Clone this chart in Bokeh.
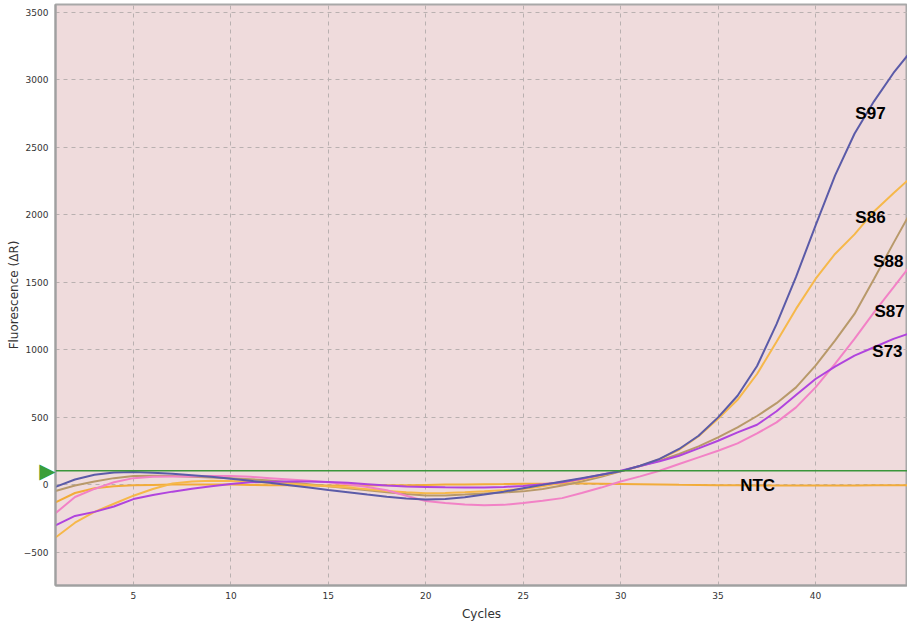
from bokeh.plotting import figure
from bokeh.models import (FixedTicker, Span, ColumnDataSource, LinearAxis,
                          CustomJSTickFormatter)
from bokeh.core.properties import value
from bokeh.embed import file_html
from bokeh.resources import INLINE

cycles = list(range(1, 46))

s97 = [-15, 40, 75, 92, 95, 90, 82, 72, 60, 45, 30, 15, -2, -20, -38, -55, -72, -88, -100, -108,
       -105, -92, -72, -50, -25, 0, 25, 50, 75, 100, 142, 192, 266, 364, 500, 660, 880, 1190, 1540, 1920,
       2290, 2600, 2840, 3050, 3230]
s86 = [-390, -280, -200, -140, -80, -30, 10, 25, 30, 28, 22, 15, 8, 0, -10, -20, -32, -45, -55, -62,
       -60, -55, -48, -40, -30, -10, 15, 40, 70, 100, 140, 190, 260, 360, 490, 630, 821, 1060, 1303, 1525,
       1710, 1855, 2025, 2160, 2290]
s88 = [-45, -5, 25, 50, 65, 68, 65, 60, 55, 50, 42, 32, 20, 5, -10, -25, -40, -55, -68, -78,
       -78, -72, -64, -56, -48, -30, -5, 25, 60, 100, 140, 180, 229, 285, 352, 426, 510, 605, 722, 883,
       1068, 1266, 1525, 1790, 2050]
s87 = [-210, -90, -30, 20, 50, 60, 62, 63, 65, 66, 60, 50, 40, 30, 20, 5, -15, -40, -80, -120,
       -135, -145, -150, -148, -135, -118, -98, -60, -20, 25, 63, 105, 155, 204, 253, 307, 381, 463, 574, 722,
       896, 1081, 1278, 1463, 1650]
s73 = [-300, -230, -200, -160, -105, -75, -50, -28, -10, 7, 19, 24, 25, 25, 22, 15, 5, -5, -12, -15,
       -18, -20, -20, -15, -8, 5, 20, 45, 75, 105, 140, 175, 216, 270, 327, 389, 445, 545, 665, 784,
       876, 957, 1019, 1081, 1130]
ntc = [-130, -60, -25, -10, -3, 0, 2, 3, 3, 2, 0, -2, -3, -5, -5, -5, -4, -3, -2, 0,
       2, 3, 5, 6, 8, 9, 10, 10, 9, 7, 5, 3, 1, 0, -2, -3, -4, -5, -5, -5,
       -5, -4, -3, -2, -2]

threshold = 105

labels = ["S97", "S86", "S88", "S87", "S73", "NTC"]
label_x = [42.82, 42.82, 43.74, 43.8, 43.69, 37.03]
label_y = [2750, 1980, 1653, 1283, 987, -6]

x_ticks = [5, 10, 15, 20, 25, 30, 35, 40]
y_ticks = [-500, 0, 500, 1000, 1500, 2000, 2500, 3000, 3500]

series = [
    (ntc, "#F2AC3A"),
    (s88, "#B8996A"),
    (s86, "#F6B84A"),
    (s87, "#F282C6"),
    (s73, "#B044DE"),
    (s97, "#5B5BA8"),
]

x_start, x_end = 1.0, 44.72
p = figure(width=907, height=626, output_backend="svg", toolbar_location=None,
           x_range=(x_start, x_end), y_range=(-745, 3557),
           min_border_left=55, min_border_right=0, min_border_top=4, min_border_bottom=41)

p.background_fill_color = "#EFDBDC"
p.border_fill_color = "white"
p.outline_line_color = "#A8A8A8"
p.outline_line_width = 2

for ys, col in series:
    p.line(cycles, ys, line_color=col, line_width=2)

p.add_layout(Span(location=threshold, dimension="width", line_color="#3A963A", line_width=1.5))

src = ColumnDataSource(dict(x=label_x, y=label_y, t=labels))
p.text(x="x", y="y", text="t", source=src, text_align="center", text_baseline="middle",
       text_font=value("Liberation Sans"), text_font_style="bold", text_font_size="17px",
       text_color="black")

# main y axis (outer) and threshold-marker axis (inner, next to the plot area)
main_y = p.yaxis[0]
tri_axis = LinearAxis(ticker=FixedTicker(ticks=[threshold]),
                      formatter=CustomJSTickFormatter(code="return '\u25B6'"))
tri_axis.major_label_text_color = "#3A9E3A"
tri_axis.major_label_text_font = "DejaVu Sans"
tri_axis.major_label_text_font_size = "21px"
tri_axis.major_label_standoff = 0
tri_axis.major_tick_out = 0
tri_axis.major_tick_in = 0
tri_axis.major_tick_line_color = None
tri_axis.minor_tick_line_color = None
tri_axis.axis_line_color = "#A0A0A0"
tri_axis.axis_line_width = 2
p.left = [tri_axis] + list(p.left)

p.xaxis.ticker = FixedTicker(ticks=x_ticks)
main_y.ticker = FixedTicker(ticks=y_ticks)
p.xgrid.ticker = FixedTicker(ticks=x_ticks)
p.ygrid.ticker = FixedTicker(ticks=y_ticks)
p.grid.grid_line_color = "#B9B0B0"
p.grid.grid_line_dash = "4 4"
p.grid.grid_line_width = 1

for ax in (p.xaxis[0], main_y):
    ax.major_tick_line_color = None
    ax.minor_tick_line_color = None
    ax.major_tick_out = 0
    ax.major_tick_in = 0
    ax.major_label_text_font = "DejaVu Sans"
    ax.major_label_text_font_size = "9px"
    ax.major_label_text_color = "#333333"
    ax.axis_label_text_font = "DejaVu Sans"
    ax.axis_label_text_font_size = "12px"
    ax.axis_label_text_font_style = "normal"
    ax.axis_label_text_color = "#333333"

p.xaxis[0].axis_line_color = "#A0A0A0"
p.xaxis[0].axis_line_width = 2
main_y.axis_line_color = None

p.xaxis[0].axis_label = "Cycles"
main_y.axis_label = "Fluorescence (\u0394R)"
p.xaxis[0].major_label_standoff = 6
p.xaxis[0].axis_label_standoff = 5
main_y.major_label_standoff = -12
main_y.axis_label_standoff = 0

open("out.html", "w").write(file_html(p, INLINE))
